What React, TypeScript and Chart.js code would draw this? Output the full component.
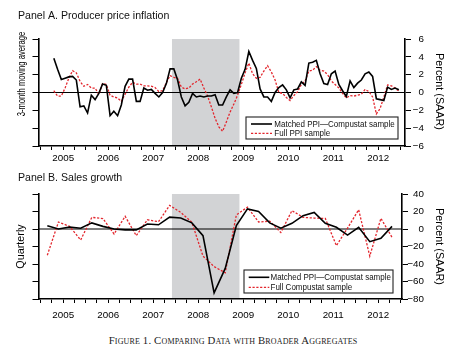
import React, { useEffect, useRef } from 'react';
import { Chart, registerables } from 'chart.js';

Chart.register(...registerables);

// ---------------- data ----------------
// Panel A: monthly, April 2005 .. December 2012 (3-month moving average, % SAAR)
const FIRST_MONTH_YEAR = 2005;
const FIRST_MONTH = 4;
const ppiMatched = [
  3.84, 2.6, 1.45, 1.6, 1.75, 1.8, 1.4, -1.6, -1.5, -2.3,
  -0.3, -0.8, -0.1, 0.95, 0.8, -2.6, -2.1, -2.6, -1.4, 0.7,
  1.5, 1.5, -1.0, -1.0, 0.5, 0.25, 0.35, -0.1, -0.5, 0.0,
  1.0, 2.65, 2.65, 1.4, -0.5, -1.5, -1.1, -0.1, -0.5, -0.4,
  -0.5, -0.4, -0.4, -0.25, -1.4, -1.4, -0.5, 0.3, -0.1, 0.0,
  1.6, 2.6, 4.6, 3.6, 2.7, 0.4, -0.5, -0.5, -1.0, 0.0,
  0.55, 0.85, 0.3, -0.6, 0.3, 0.4, 1.2, 0.8, 3.3, 3.4,
  3.6, 2.1, 1.0, 0.9, 2.1, 2.4, 0.9, 0.2, -0.45, 1.3,
  0.55, 1.05, 1.4, 2.1, 2.3, 1.8, -0.7, -0.8, -0.9, 0.6,
  0.35, 0.5, 0.3,
];
const ppiFull = [
  0.2, -0.4, -0.4, 0.5, 1.6, 2.45, 2.2, 1.25, 0.7, 0.9,
  0.5, 0.5, -0.2, 1.0, 0.9, -0.3, -0.5, -0.6, -1.0, -0.2,
  0.6, 1.15, 0.95, 0.95, 0.75, 0.75, 0.7, 0.55, 0.1, 0.2,
  1.1, 1.9, 1.7, 1.6, 0.6, 0.4, 0.5, 0.95, 1.2, 1.5,
  0.5, -0.4, -1.6, -2.9, -3.85, -4.35, -3.3, -2.2, -1.3, -0.3,
  0.9, 2.2, 3.3, 2.1, 1.6, 1.7, 2.4, 3.0, 2.3, 1.4,
  0.0, -0.1, -0.55, -0.9, -0.35, 0.1, 0.9, 1.3, 2.4, 2.5,
  2.9, 2.5, 2.4, 2.0, 1.3, 0.9, 0.5, -0.1, -0.6, -0.35,
  -0.4, -0.3, -0.2, 0.35, 0.1, -0.5, -2.4, -1.8, -0.5, 0.85,
  0.75, 0.5, 0.15,
];

// Panel B: quarterly, 2005Q1 .. 2012Q4 (% SAAR)
const FIRST_QUARTER_POS = 2005.147;
const QUARTER_STEP = 0.2471;
const salesMatched = [
  3.8, 0, 2.3, 0.8, 7, 3, 0, -1, -1, 5.7,
  4.8, 13.5, 12.5, 7, -7.6, -73, -45, 4, 23, 20,
  7, 1, 6.5, 15.2, 19, 6.5, 1.9, -6.9, 1.9, -14.5,
  -10.5, 3,
];
const salesFull = [
  -30, 8, 3, -12.5, 13.3, 12, -5.7, 14.5, -7.6, 10.5,
  8.3, 27, 19, 7.6, -31, -43, -50, 16, 25, 8,
  9, -4, 21, 13.3, 12.5, 12, -19, 1, 22, -31,
  12.2, -9.5,
];

const yearLabels = ['2005', '2006', '2007', '2008', '2009', '2010', '2011', '2012'];
const ppiTickValues = [-6, -4, -2, 0, 2, 4, 6];
const salesTickValues = [-80, -60, -40, -20, 0, 20, 40];
const recessionStart = 2007 + 11 / 12;
const recessionEnd = 2009 + 5 / 12;

// ---------------- helpers ----------------
const FONT = "'Liberation Sans', Arial, Helvetica, sans-serif";
const W = 476;
const BLACK = '#000000';
const RED = '#e3262d';
const SHADE = '#d2d3d5';

const monthXs = ppiMatched.map((_, i) => FIRST_MONTH_YEAR + (FIRST_MONTH - 1 + i + 0.5) / 12);
const quarterXs = salesMatched.map((_, i) => FIRST_QUARTER_POS + i * QUARTER_STEP);
const quarterTicks: number[] = [];
for (let q = 0; q <= yearLabels.length * 4; q++) quarterTicks.push(Number(yearLabels[0]) + q / 4);

function minus(v: number) {
  return v < 0 ? '\u2212' + Math.abs(v) : String(v);
}

function drawText(
  ctx: CanvasRenderingContext2D,
  str: string,
  x: number,
  y: number,
  o: { size: number; rot?: number; sx?: number; align?: CanvasTextAlign; baseline?: CanvasTextBaseline; color?: string }
) {
  ctx.save();
  ctx.translate(x, y);
  if (o.rot) ctx.rotate(o.rot);
  ctx.scale(o.sx ?? 1, 1);
  ctx.font = `${o.size}px ${FONT}`;
  ctx.fillStyle = o.color ?? '#111111';
  ctx.textAlign = o.align ?? 'left';
  ctx.textBaseline = o.baseline ?? 'alphabetic';
  ctx.fillText(str, 0, 0);
  ctx.restore();
}

type Spec = {
  H: number;
  area: { left: number; right: number; top: number; bottom: number };
  labelRight: number;
  xMin: number;
  xMax: number;
  xs: number[];
  matched: number[];
  full: number[];
  yTicks: number[];
  xPad: number;
  title: string;
  titleY: number;
  leftTitle: string;
  leftTitleY: number;
  leftTitleSize: number;
  leftTitleSx: number;
  rightTitle: string;
  rightTitleY: number;
  legendLabels: string[];
  legendBox: { l: number; t: number; r: number; b: number };
  legendRows: number[];
  legendLine: number[];
  legendTextX: number;
};

function makeChart(canvas: HTMLCanvasElement, s: Spec) {
  const yMin = Math.min(...s.yTicks);
  const yMax = Math.max(...s.yTicks);

  const decor = {
    id: 'decor',
    beforeDraw(chart: any) {
      const { ctx, chartArea: a, scales } = chart;
      const x0 = scales.x.getPixelForValue(recessionStart);
      const x1 = scales.x.getPixelForValue(recessionEnd);
      ctx.save();
      ctx.fillStyle = SHADE;
      ctx.fillRect(x0, a.top, x1 - x0, a.bottom - a.top);
      ctx.restore();
    },
    beforeDatasetsDraw(chart: any) {
      const { ctx, chartArea: a, scales } = chart;
      const y0 = scales.y.getPixelForValue(0);
      ctx.save();
      ctx.strokeStyle = BLACK;
      ctx.lineWidth = 1.2;
      ctx.beginPath();
      ctx.moveTo(a.left, y0);
      ctx.lineTo(a.right, y0);
      ctx.stroke();
      ctx.restore();
    },
    afterDraw(chart: any) {
      const { ctx } = chart;
      drawText(ctx, s.title, 18, s.titleY, { size: 10.6 });
      drawText(ctx, s.leftTitle, 21.5, s.leftTitleY, {
        size: s.leftTitleSize, rot: -Math.PI / 2, sx: s.leftTitleSx, align: 'center', baseline: 'middle', color: '#000000',
      });
      drawText(ctx, s.rightTitle, 438.5, s.rightTitleY, {
        size: 10.8, rot: Math.PI / 2, align: 'center', baseline: 'middle', color: '#000000',
      });
      const b = s.legendBox;
      ctx.save();
      ctx.fillStyle = '#ffffff';
      ctx.fillRect(b.l, b.t, b.r - b.l, b.b - b.t);
      ctx.strokeStyle = '#222222';
      ctx.lineWidth = 1.1;
      ctx.strokeRect(b.l, b.t, b.r - b.l, b.b - b.t);
      ctx.restore();
      chart.data.datasets.forEach((ds: any, i: number) => {
        const y = s.legendRows[i];
        ctx.save();
        ctx.strokeStyle = ds.borderColor;
        ctx.lineWidth = ds.borderWidth;
        ctx.setLineDash(ds.borderDash || []);
        ctx.beginPath();
        ctx.moveTo(s.legendLine[0], y);
        ctx.lineTo(s.legendLine[1], y);
        ctx.stroke();
        ctx.restore();
        drawText(ctx, ds.label, s.legendTextX, y + 0.5, { size: 9.3, sx: 0.86, baseline: 'middle' });
      });
    },
  };

  return new Chart(canvas, {
    type: 'line',
    data: {
      datasets: [
        {
          label: s.legendLabels[0],
          data: s.xs.map((x, i) => ({ x, y: s.matched[i] })),
          borderColor: BLACK,
          borderWidth: 1.6,
          pointRadius: 0,
          tension: 0,
          fill: false,
          yAxisID: 'y',
        },
        {
          label: s.legendLabels[1],
          data: s.xs.map((x, i) => ({ x, y: s.full[i] })),
          borderColor: RED,
          borderWidth: 1.3,
          borderDash: [2.2, 1.6],
          pointRadius: 0,
          tension: 0,
          fill: false,
          yAxisID: 'y',
        },
      ],
    },
    options: {
      responsive: false,
      animation: false,
      events: [],
      layout: { padding: { top: s.area.top, left: 0, right: W - s.labelRight, bottom: 0 } },
      plugins: { legend: { display: false }, tooltip: { enabled: false }, title: { display: false } },
      scales: {
        x: {
          type: 'linear',
          position: 'bottom',
          min: s.xMin,
          max: s.xMax,
          afterBuildTicks: (sc: any) => {
            sc.ticks = quarterTicks.map((v) => ({ value: v }));
          },
          afterFit: (sc: any) => {
            sc.height = s.H - s.area.bottom;
          },
          grid: { drawOnChartArea: false, drawTicks: true, tickLength: 4, color: BLACK, lineWidth: 1 },
          border: { display: true, color: BLACK, width: 1.6 },
          ticks: {
            autoSkip: false,
            maxRotation: 0,
            minRotation: 0,
            padding: s.xPad,
            color: BLACK,
            font: { family: FONT, size: 9.8 },
            callback: (v: any) => {
              const val = Number(v);
              const yr = Math.floor(val + 1e-9);
              const frac = val - yr;
              const lbl = String(yr);
              return Math.abs(frac - 0.5) < 1e-6 && yearLabels.includes(lbl) ? lbl : '';
            },
          },
        },
        y: {
          type: 'linear',
          position: 'left',
          min: yMin,
          max: yMax,
          afterBuildTicks: (sc: any) => {
            sc.ticks = s.yTicks.map((v) => ({ value: v }));
          },
          afterFit: (sc: any) => {
            sc.width = s.area.left;
          },
          grid: { drawOnChartArea: false, drawTicks: true, tickLength: 6, color: BLACK, lineWidth: 1 },
          border: { display: true, color: BLACK, width: 1.6 },
          ticks: { padding: 0, callback: () => '' },
        },
        y2: {
          type: 'linear',
          position: 'right',
          min: yMin,
          max: yMax,
          afterBuildTicks: (sc: any) => {
            sc.ticks = s.yTicks.map((v) => ({ value: v }));
          },
          afterFit: (sc: any) => {
            sc.width = s.labelRight - s.area.right;
          },
          grid: { drawOnChartArea: false, drawTicks: true, tickLength: 6, color: BLACK, lineWidth: 1 },
          border: { display: true, color: BLACK, width: 1.6 },
          ticks: {
            padding: 2,
            crossAlign: 'far',
            color: BLACK,
            font: { family: FONT, size: 9.8 },
            callback: (v: any) => minus(Number(v)),
          },
        },
      },
    } as any,
    plugins: [decor],
  });
}

const specA: Spec = {
  H: 170,
  area: { left: 38.5, right: 405, top: 39, bottom: 146 },
  labelRight: 424,
  xMin: 2004.951,
  xMax: 2013.095,
  xs: monthXs,
  matched: ppiMatched,
  full: ppiFull,
  yTicks: ppiTickValues,
  xPad: 2,
  title: 'Panel A. Producer price inflation',
  titleY: 19,
  leftTitle: '3-month moving average',
  leftTitleY: 74,
  leftTitleSize: 11.6,
  leftTitleSx: 0.66,
  rightTitle: 'Percent (SAAR)',
  rightTitleY: 91.5,
  legendLabels: ['Matched PPI\u2014Compustat sample', 'Full PPI sample'],
  legendBox: { l: 246, t: 117, r: 398, b: 139 },
  legendRows: [124, 133.3],
  legendLine: [251, 272],
  legendTextX: 274.3,
};

const specB: Spec = {
  H: 150,
  area: { left: 38.5, right: 402, top: 24, bottom: 129 },
  labelRight: 424,
  xMin: 2004.951,
  xMax: 2013.029,
  xs: quarterXs,
  matched: salesMatched,
  full: salesFull,
  yTicks: salesTickValues,
  xPad: 6,
  title: 'Panel B. Sales growth',
  titleY: 10.7,
  leftTitle: 'Quarterly',
  leftTitleY: 76.5,
  leftTitleSize: 10.8,
  leftTitleSx: 1,
  rightTitle: 'Percent (SAAR)',
  rightTitleY: 76.5,
  legendLabels: ['Matched PPI\u2014Compustat sample', 'Full Compustat sample'],
  legendBox: { l: 244, t: 100, r: 393, b: 123 },
  legendRows: [107.3, 117.3],
  legendLine: [248.7, 269.3],
  legendTextX: 270.5,
};

export default function App() {
  const refA = useRef<HTMLCanvasElement>(null);
  const refB = useRef<HTMLCanvasElement>(null);

  useEffect(() => {
    const a = makeChart(refA.current as HTMLCanvasElement, specA);
    const b = makeChart(refB.current as HTMLCanvasElement, specB);
    return () => {
      a.destroy();
      b.destroy();
    };
  }, []);

  return (
    <div style={{ position: 'absolute', left: 0, top: 0, width: W, height: 350, background: '#ffffff', overflow: 'hidden' }}>
      <canvas ref={refA} width={W} height={170} style={{ position: 'absolute', left: 0, top: 0, width: W, height: 170 }} />
      <canvas ref={refB} width={W} height={150} style={{ position: 'absolute', left: 0, top: 170, width: W, height: 150 }} />
      <div
        style={{
          position: 'absolute',
          left: 0,
          top: 333.5,
          width: 466,
          textAlign: 'center',
          fontFamily: "'Liberation Serif', 'Times New Roman', serif",
          fontSize: 10.8,
          lineHeight: '12px',
          fontVariant: 'small-caps',
          letterSpacing: 0.15,
          color: '#222222',
          whiteSpace: 'nowrap',
        }}
      >
        Figure 1. Comparing Data with Broader Aggregates
      </div>
    </div>
  );
}
